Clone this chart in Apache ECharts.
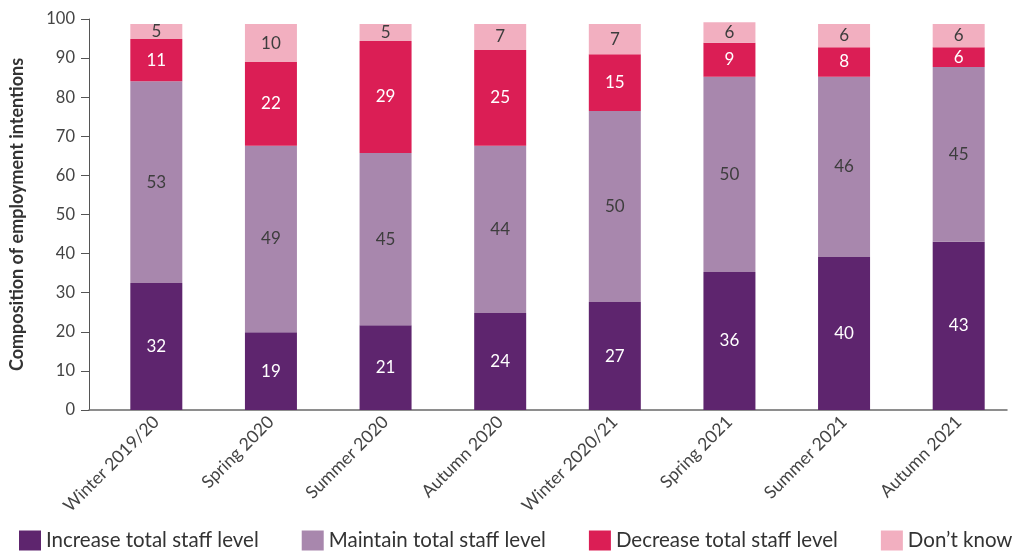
<!DOCTYPE html>
<html>
<head>
<meta charset="utf-8">
<script src="https://cdn.jsdelivr.net/npm/echarts@6/dist/echarts.min.js"></script>
<style>
html,body{margin:0;padding:0;background:#fff;}
#chart{width:1017px;height:553px;}
</style>
</head>
<body>
<div id="chart"></div>
<script>
const categories = ['Winter 2019/20','Spring 2020','Summer 2020','Autumn 2020','Winter 2020/21','Spring 2021','Summer 2021','Autumn 2021'];
// segment heights as drawn in the picture
const increase = [32.5, 19.9, 21.7, 24.8, 27.6, 35.3, 39.1, 43.0];
const maintain = [51.6, 47.7, 44.0, 42.8, 48.9, 49.9, 46.1, 44.7];
const decrease = [10.8, 21.4, 28.7, 24.5, 14.5, 8.7, 7.6, 5.1];
const dontKnow = [3.8, 9.7, 4.3, 6.6, 7.7, 5.3, 5.9, 5.9];
// printed labels
const increaseLabels = [32, 19, 21, 24, 27, 36, 40, 43];
const maintainLabels = [53, 49, 45, 44, 50, 50, 46, 45];
const decreaseLabels = [11, 22, 29, 25, 15, 9, 8, 6];
const dontKnowLabels = [5, 10, 5, 7, 7, 6, 6, 6];
const yTicks = [0, 100, 10];
const seriesNames = ['Increase total staff level','Maintain total staff level','Decrease total staff level','Don\u2019t know'];

const FONT = 'Lato';
const colors = ['#5E256E','#A887AD','#DB1E55','#F2AFC0'];
const labelColors = ['#ffffff','#3d3d3d','#ffffff','#3d3d3d'];
const values = [increase, maintain, decrease, dontKnow];
const labels = [increaseLabels, maintainLabels, decreaseLabels, dontKnowLabels];

const chart = echarts.init(document.getElementById('chart'), null, {renderer:'canvas'});
const series = seriesNames.map((n, i) => ({
  name: n, type: 'bar', stack: 'total', xAxisIndex: 0, yAxisIndex: 0,
  barWidth: 52,
  itemStyle: {color: colors[i]},
  label: {
    show: true, position: 'inside', color: labelColors[i],
    fontFamily: FONT, fontSize: 17,
    formatter: p => String(labels[i][p.dataIndex])
  },
  data: values[i]
}));

chart.setOption({
  animation: false,
  textStyle: {fontFamily: FONT},
  grid: [
    {left: 99, right: 1, top: 19, bottom: 143},
    {left: 88, right: 10, top: 19, bottom: 143}
  ],
  xAxis: [
    {type: 'category', gridIndex: 0, data: categories,
     axisLine: {show: false}, axisTick: {show: false},
     axisLabel: {rotate: 45, margin: 9, fontSize: 17.5, color: '#444', fontFamily: FONT, interval: 0}},
    {type: 'value', gridIndex: 1, min: 0, max: 1,
     axisLine: {show: true, lineStyle: {color: '#6a6a6a', width: 1.5}},
     axisTick: {show: false}, axisLabel: {show: false}, splitLine: {show: false}}
  ],
  yAxis: [
    {type: 'value', gridIndex: 0, min: yTicks[0], max: yTicks[1], interval: yTicks[2],
     show: false, splitLine: {show: false}},
    {type: 'value', gridIndex: 1, min: yTicks[0], max: yTicks[1], interval: yTicks[2],
     name: 'Composition of employment intentions', nameLocation: 'middle', nameGap: 63,
     nameTextStyle: {fontFamily: FONT, fontSize: 18, fontWeight: 'bold', color: '#333'},
     axisLine: {show: true, lineStyle: {color: '#555', width: 1}},
     axisTick: {show: true, length: 8, lineStyle: {color: '#555'}},
     axisLabel: {fontSize: 16.5, color: '#444', margin: 14, fontFamily: FONT},
     splitLine: {show: false}}
  ],
  legend: {
    data: seriesNames, left: 14, bottom: -3, width: 1200,
    itemWidth: 22, itemHeight: 20, itemGap: 43,
    icon: 'rect',
    textStyle: {fontFamily: FONT, fontSize: 20.5, color: '#333'}
  },
  series: series
});
</script>
</body>
</html>
